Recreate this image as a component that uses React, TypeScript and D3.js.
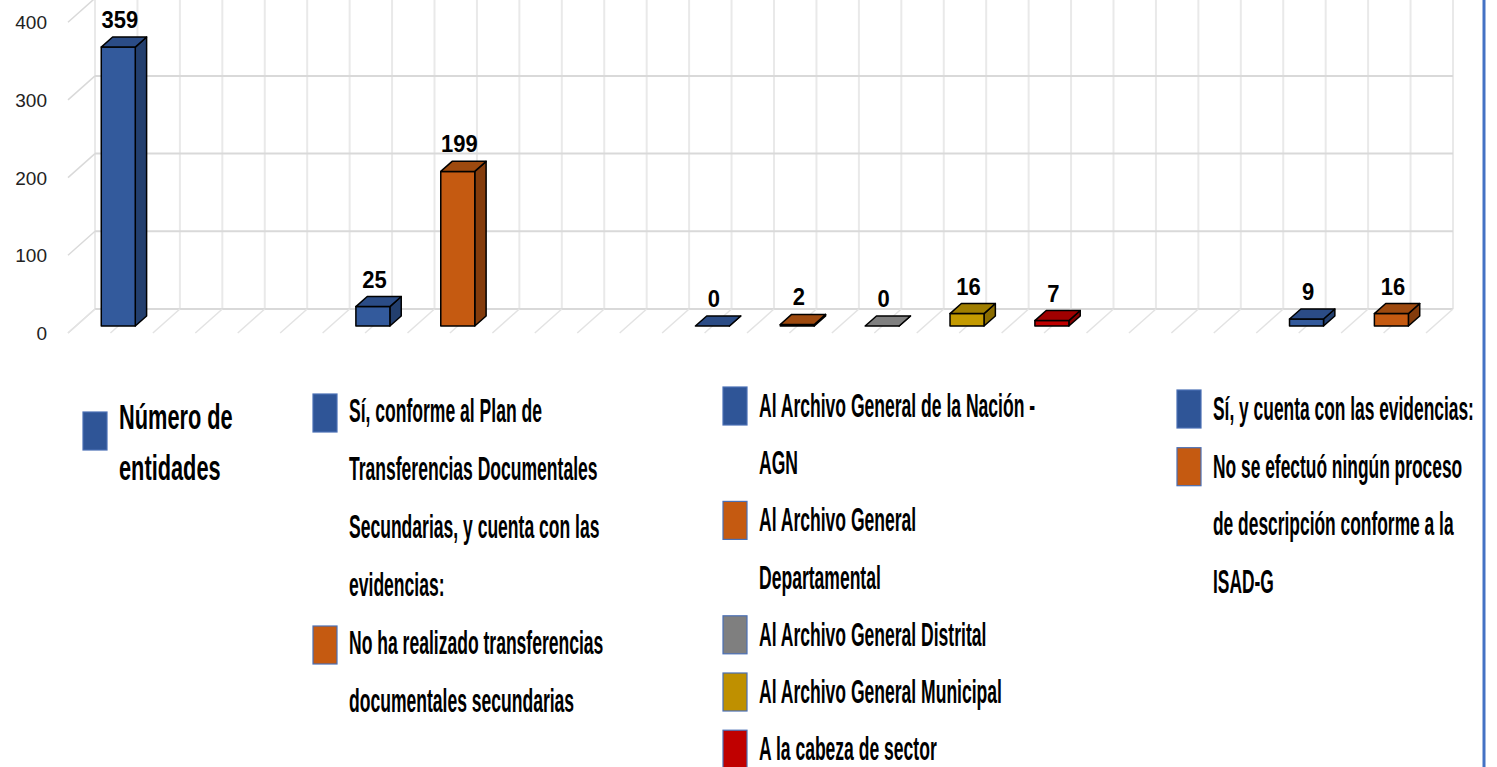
import React from 'react';
import * as d3 from 'd3';

// valores
const seriesValues = [359, 25, 199, 0, 2, 0, 16, 7, 9, 16];
const seriesGroup = [0, 1, 1, 2, 2, 2, 2, 2, 3, 3];
const seriesColor = ['blue', 'blue', 'orange', 'blue', 'orange', 'gray', 'gold', 'red', 'blue', 'orange'];
const legendLines = [
  ['Número de', 'entidades'],
  ['Sí, conforme al Plan de', 'Transferencias Documentales', 'Secundarias, y cuenta con las', 'evidencias:'],
  ['No ha realizado transferencias', 'documentales secundarias'],
  ['Al Archivo General de la Nación -', 'AGN'],
  ['Al Archivo General', 'Departamental'],
  ['Al Archivo General Distrital'],
  ['Al Archivo General Municipal'],
  ['A la cabeza de sector'],
  ['Sí, y cuenta con las evidencias:'],
  ['No se efectuó ningún proceso', 'de descripción conforme a la', 'ISAD-G'],
];
const yTicks = [0, 100, 200, 300, 400];

const shades: Record<string, { front: string; side: string; top: string; key: string }> = {
  blue: { front: '#335a9c', side: '#233f6e', top: '#2b4c86', key: '#2f5597' },
  orange: { front: '#c55a11', side: '#843c0c', top: '#9e4a0f', key: '#c55a11' },
  gray: { front: '#8c8c8c', side: '#666666', top: '#808080', key: '#7f7f7f' },
  gold: { front: '#c49a00', side: '#8a6c00', top: '#a07e00', key: '#bf9000' },
  red: { front: '#c00000', side: '#850000', top: '#a00000', key: '#c00000' },
};

const W = 1497;
const H = 767;
const DX = 27; // desplazamiento de profundidad
const DY = -24;
const D0 = 0.29;
const D1 = 0.71;
const BAR_W = 34;
const GROUP_GAP = 2;
const FONT = "'Liberation Sans', Arial, sans-serif";

const legendCols = [
  { x: 83, y0: 429, lh: 51, sqDy: -17, size: 33, sx: 0.66, sy: 1.06 },
  { x: 313, y0: 422, lh: 58, sqDy: -28, size: 30, sx: 0.585, sy: 1.1 },
  { x: 723, y0: 417, lh: 57.2, sqDy: -30, size: 30, sx: 0.585, sy: 1.1 },
  { x: 1177, y0: 420, lh: 57.7, sqDy: -30, size: 30, sx: 0.58, sy: 1.1 },
];

export default function App() {
  // posición de cada serie: grupos separados por huecos
  const slots: number[] = [];
  let cursor = 0;
  seriesGroup.forEach((g, i) => {
    if (i > 0 && g !== seriesGroup[i - 1]) cursor += GROUP_GAP;
    slots.push(cursor++);
  });

  const x = d3.scaleBand<number>().domain(d3.range(cursor)).range([68, 1426]).padding(0);
  const y = d3.scaleLinear().domain([0, 400]).range([333, 22.2]);
  const half = x.step() / 2;
  const gridXs = d3.range(cursor * 2 + 1).map(k => x.range()[0] + k * half);
  const yTopBack = y(400) + DY;

  const bars = seriesValues.map((v, i) => {
    const c = (x(slots[i]) ?? 0) + half + DX * D0;
    const x0 = c - BAR_W / 2;
    const x1 = c + BAR_W / 2;
    const yb = y(0) + DY * D0;
    const yt = y(v) + DY * D0;
    const ddx = DX * (D1 - D0);
    const ddy = DY * (D1 - D0);
    return { v, c, x0, x1, yb, yt, ddx, ddy, s: shades[seriesColor[i]] };
  });

  // leyenda: cada grupo es una columna
  const legendItems: JSX.Element[] = [];
  const colCursor = legendCols.map(() => 0);
  legendLines.forEach((lines, i) => {
    const g = seriesGroup[i];
    const col = legendCols[g];
    const base = col.y0 + colCursor[g] * col.lh;
    colCursor[g] += lines.length;
    legendItems.push(
      <g key={'lg' + i}>
        <rect x={col.x} y={base + col.sqDy} width={24} height={38}
          fill={shades[seriesColor[i]].key} stroke="#4a6fb5" strokeWidth={1.2} />
        {lines.map((t, j) => (
          <text key={j} transform={`translate(${col.x + 36},${base + j * col.lh}) scale(${col.sx},${col.sy})`}
            fontSize={col.size} fontWeight="bold" fontFamily={FONT} fill="#000">{t}</text>
        ))}
      </g>
    );
  });

  return (
    <svg width={W} height={H} style={{ position: 'absolute', left: 0, top: 0, display: 'block', background: '#fff' }}>
      <rect width={W} height={H} fill="#fff" />
      {/* pared del fondo */}
      {gridXs.map((gx, k) => (
        <line key={'v' + k} x1={gx + DX} x2={gx + DX} y1={y(0) + DY} y2={yTopBack}
          stroke="#e9e9e9" strokeWidth={2} />
      ))}
      {yTicks.map(t => (
        <g key={'h' + t}>
          <line x1={x.range()[0] + DX} x2={x.range()[1] + DX} y1={y(t) + DY} y2={y(t) + DY}
            stroke="#d9d9d9" strokeWidth={2} />
          <line x1={x.range()[0]} x2={x.range()[0] + DX} y1={y(t)} y2={y(t) + DY}
            stroke="#d9d9d9" strokeWidth={1.5} />
          <text x={47} y={y(t) + 2} textAnchor="end" dominantBaseline="middle"
            fontSize={19} fontFamily={FONT} fill="#222">{t}</text>
        </g>
      ))}
      {/* piso */}
      {gridXs.map((gx, k) => (
        <line key={'f' + k} x1={gx + DX} y1={y(0) + DY} x2={gx} y2={y(0)}
          stroke="#e3e3e3" strokeWidth={1.5} />
      ))}
      {/* barras 3D */}
      {bars.map((b, i) => (
        <g key={'b' + i} stroke="#000" strokeWidth={1.5} strokeLinejoin="round">
          <polygon points={`${b.x1},${b.yt} ${b.x1 + b.ddx},${b.yt + b.ddy} ${b.x1 + b.ddx},${b.yb + b.ddy} ${b.x1},${b.yb}`}
            fill={b.s.side} />
          <rect x={b.x0} y={b.yt} width={b.x1 - b.x0} height={Math.max(0, b.yb - b.yt)} fill={b.s.front} />
          <polygon points={`${b.x0},${b.yt} ${b.x0 + b.ddx},${b.yt + b.ddy} ${b.x1 + b.ddx},${b.yt + b.ddy} ${b.x1},${b.yt}`}
            fill={b.s.top} />
        </g>
      ))}
      {bars.map((b, i) => (
        <text key={'t' + i} transform={`translate(${b.c + 1.5},${b.yt + b.ddy - 9}) scale(1,1.08)`} textAnchor="middle"
          fontSize={22} fontWeight="bold" fontFamily={FONT} fill="#000">{b.v}</text>
      ))}
      {legendItems}
      <line x1={1484} x2={1484} y1={0} y2={H} stroke="#4472c4" strokeWidth={3} />
    </svg>
  );
}
